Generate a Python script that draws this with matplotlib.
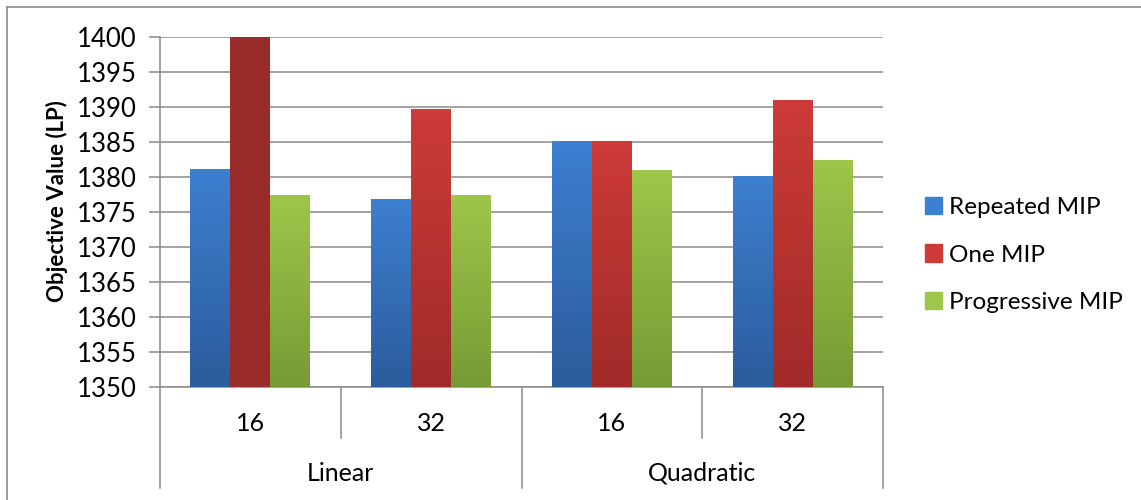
import matplotlib.pyplot as plt
import matplotlib.transforms as mtransforms
from matplotlib.lines import Line2D
import numpy as np

plt.rcParams['font.family'] = ['Lato', 'DejaVu Sans']

groups = ['Linear', 'Quadratic']
sizes = ['16', '32', '16', '32']
series = ['Repeated MIP', 'One MIP', 'Progressive MIP']

repeated_mip = [1381.2, 1376.9, 1385.1, 1380.1]
one_mip = [1400.0, 1389.7, 1385.1, 1390.95]
progressive_mip = [1377.4, 1377.5, 1380.95, 1382.5]

# top / bottom colours of each series' gradient
grad_colors = [('#3d7fd0', '#2b5c9c'), ('#cc3b38', '#a02b29'), ('#9dc64a', '#779b34')]
highlight = '#9a2b2b'   # the first One MIP bar is drawn flat and darker

grid_col = '#8a8a8a'

fig = plt.figure(figsize=(11.41, 5.0), dpi=100)
ax = fig.add_axes([160 / 1141, 1 - 387 / 500, 723 / 1141, 350 / 500])

x = np.arange(len(sizes))
width = 40 / 181
values = [repeated_mip, one_mip, progressive_mip]


def gradient_bar(rect, top, bottom):
    xs, y0 = rect.get_x(), rect.get_y()
    w, h = rect.get_width(), rect.get_height()
    grad = np.linspace(0, 1, 64).reshape(-1, 1)
    c1 = np.array(plt.matplotlib.colors.to_rgb(top))
    c2 = np.array(plt.matplotlib.colors.to_rgb(bottom))
    img = c1 + (c2 - c1) * grad[..., None]
    im = ax.imshow(img, extent=[xs, xs + w, y0, y0 + h], origin='upper',
                   aspect='auto', zorder=3)
    im.set_clip_path(rect)


for i, vals in enumerate(values):
    bars = ax.bar(x + (i - 1) * width, np.array(vals) - 1350, width, bottom=1350,
                  color='none', edgecolor='none', zorder=3)
    for j, b in enumerate(bars):
        if i == 1 and j == 0:
            b.set_facecolor(highlight)
        else:
            gradient_bar(b, *grad_colors[i])

ax.set_xlim(-0.5, 3.5)
ax.set_ylim(1350, 1400)
ax.set_yticks(np.arange(1350, 1401, 5))
ax.yaxis.grid(True, color=grid_col, linewidth=1.1, zorder=0)
ax.set_axisbelow(True)
ax.tick_params(axis='y', direction='out', length=8, color=grid_col, width=1.1,
               labelsize=18.5, pad=9, labelcolor='black')
ax.tick_params(axis='x', bottom=False, labelbottom=False)
for s in ['top', 'right']:
    ax.spines[s].set_visible(False)
for s in ['left', 'bottom']:
    ax.spines[s].set_color(grid_col)
    ax.spines[s].set_linewidth(1.1)

ax.set_ylabel('Objective Value (LP)', fontsize=16, fontweight='bold', va='center')
ax.yaxis.set_label_coords(-0.143, 0.53)

# two-level category axis below the plot
trans = mtransforms.blended_transform_factory(ax.transData, ax.transAxes)
for k in range(len(sizes) + 1):
    xb = k - 0.5
    depth = -0.289 if k % 2 == 0 else -0.146
    ax.add_line(Line2D([xb, xb], [0, depth], transform=trans, color=grid_col,
                       linewidth=1.1, clip_on=False))
for k, s in enumerate(sizes):
    ax.text(k, -0.103, s, transform=trans, ha='center', va='center', fontsize=18)
for g, name in enumerate(groups):
    ax.text(2 * g + 0.5, -0.246, name, transform=trans, ha='center', va='center',
            fontsize=18)

# legend
handles = [plt.Rectangle((0, 0), 1, 1, color=c[0]) for c in grad_colors]
leg = fig.legend(handles, series, loc='center left', bbox_to_anchor=(903 / 1141, 1 - 255 / 500),
                 frameon=False, fontsize=17.5, handlelength=0.7, handleheight=0.7,
                 handletextpad=0.3, labelspacing=1.1)

# chart frame (only top and left edges fall inside the image)
fig.add_artist(Line2D([7 / 1141, 1], [1 - 7 / 500, 1 - 7 / 500], color=grid_col, linewidth=1.2))
fig.add_artist(Line2D([7 / 1141, 7 / 1141], [0, 1 - 7 / 500], color=grid_col, linewidth=1.2))

fig.savefig('out.png', dpi=100)
